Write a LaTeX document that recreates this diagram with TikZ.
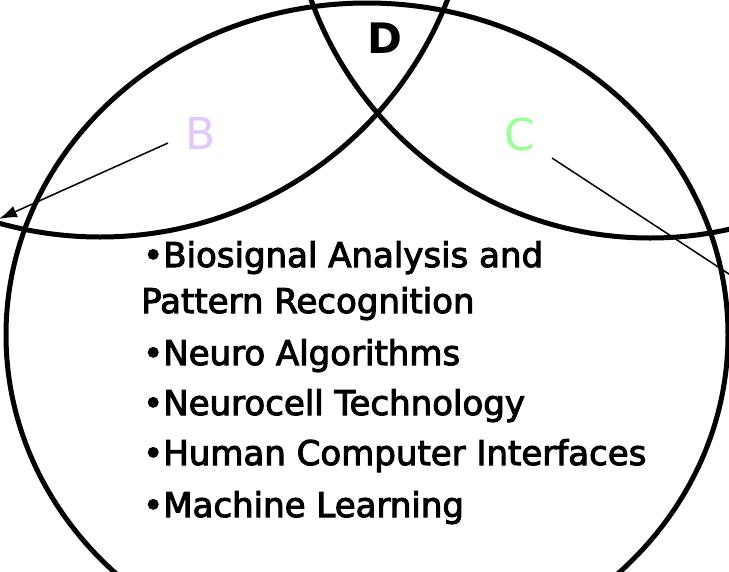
\documentclass[tikz,border=0pt]{standalone}
\usepackage{fontspec}
\setmainfont{DejaVu Sans}
\newfontfamily\itemfont{DejaVu Sans}[FakeBold=3]
\usetikzlibrary{arrows.meta}
\definecolor{labelB}{HTML}{E0C8FF}
\definecolor{labelC}{HTML}{99FF99}

\begin{document}
\begin{tikzpicture}[x=1pt, y=-1pt,
        ring/.style={line width=5pt},
        pointer/.style={line width=1.5pt, -{Latex[length=18pt,width=12pt]}},
        letter/.style={anchor=base, inner sep=0pt, font=\fontsize{44}{44}\selectfont},
        item/.style={anchor=base west, inner sep=0pt, font=\fontsize{34}{40}\selectfont\itemfont}]
        \useasboundingbox (0,0) rectangle (729,571);
        \clip (0,0) rectangle (729,571);
        \draw[ring] (100,-136) circle (373pt);
        \draw[ring] (650,-122) circle (360pt);
        \draw[ring] (367,335) ellipse [x radius=361pt, y radius=332pt];
        \node (d) [letter, font=\fontsize{42}{42}\selectfont\bfseries] at (385,53) {D};
        \node (b) [letter, text=labelB] at (201,149) {B};
        \node (c) [letter, text=labelC] at (520,150) {C};
        \coordinate (bTail) at (168,143);
        \coordinate (bTip) at (-1,219);
        \coordinate (cTail) at (552,158);
        \coordinate (cTip) at (790,314);
        \path[pointer] (bTail) edge (bTip);
        \path[pointer] (cTail) edge (cTip);
        \foreach \x/\y/\txt [count=\i] in {143/267/•Biosignal Analysis and, 141/313/Pattern Recognition,
            143/365/•Neuro Algorithms, 143/415/•Neurocell Technology,
            143/465/•Human Computer Interfaces, 143/517/•Machine Learning}
          \node (item\i) [item] at (\x,\y) {\txt};
      \end{tikzpicture}
\end{document}
